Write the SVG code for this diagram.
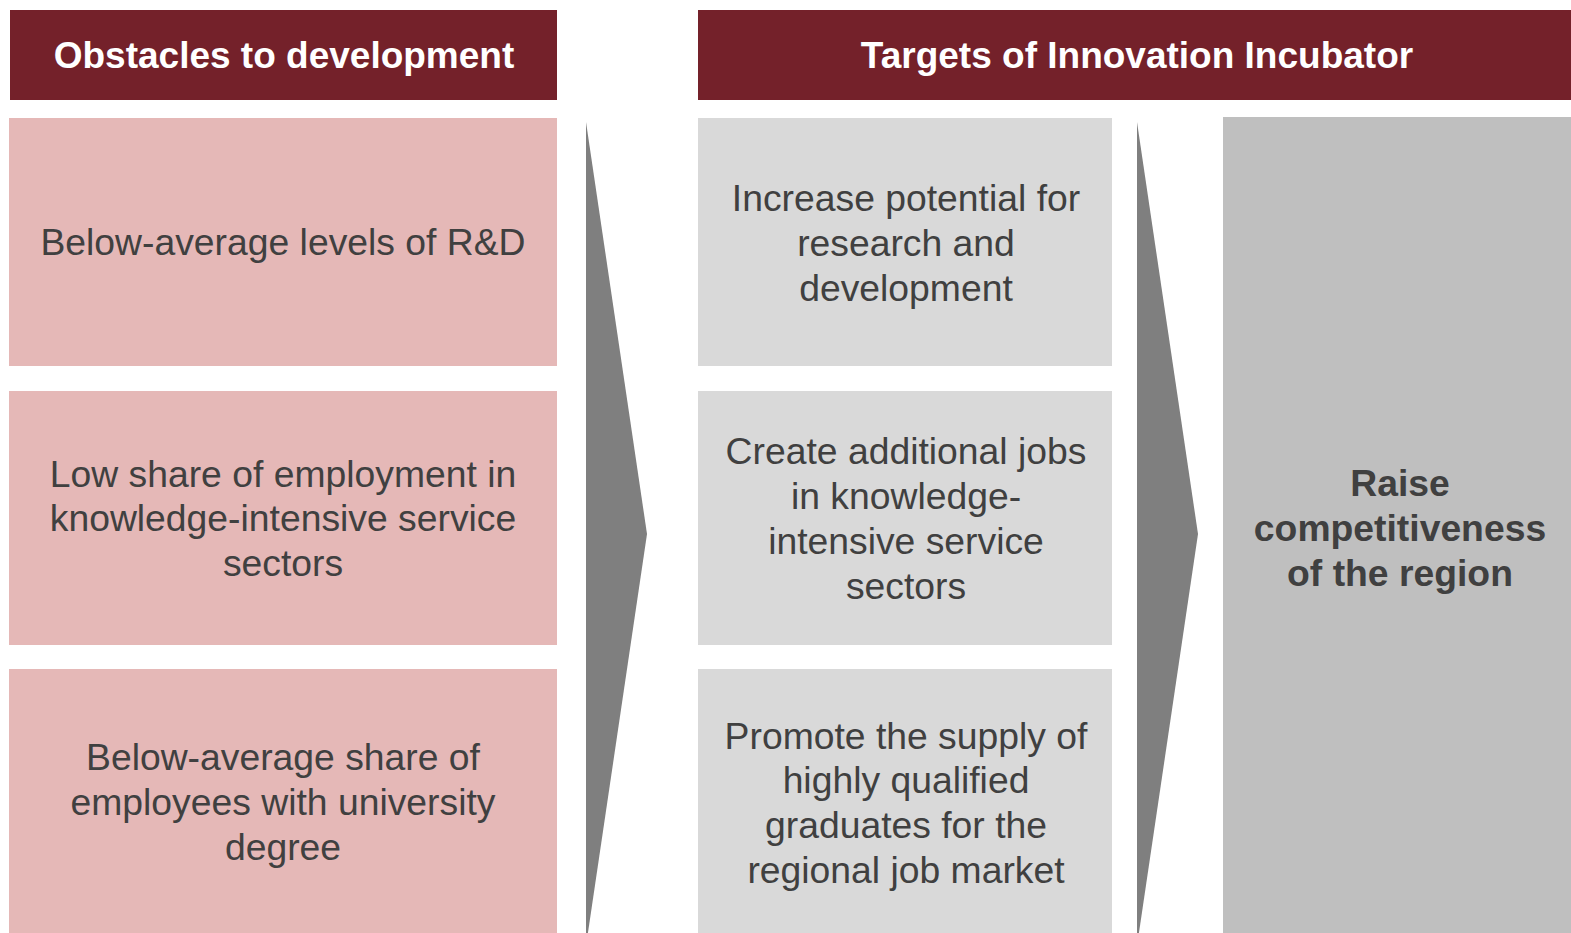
<svg xmlns="http://www.w3.org/2000/svg" width="1571" height="933" viewBox="0 0 1571 933">
<style>
.hdr{fill:#74212A}
.hdrt{font-family:"Liberation Sans",Arial,sans-serif;font-weight:bold;font-size:37px;fill:#FFFFFF;text-anchor:middle}
.pink{fill:#E5B8B7}
.gray{fill:#D9D9D9}
.big{fill:#BFBFBF}
.arrow{fill:#7F7F7F}
.t{font-family:"Liberation Sans",Arial,sans-serif;font-size:37.3px;fill:#404040;text-anchor:middle}
.tb{font-family:"Liberation Sans",Arial,sans-serif;font-size:37.3px;font-weight:bold;fill:#404040;text-anchor:middle}
</style>
<rect width="1571" height="933" fill="#FFFFFF"/>
<g id="header-obstacles">
<rect class="hdr" x="10" y="10" width="547" height="90"/>
<text class="hdrt" x="284" y="68">Obstacles to development</text>
</g>
<g id="header-targets">
<rect class="hdr" x="698" y="10" width="873" height="90"/>
<text class="hdrt" x="1137" y="68">Targets of Innovation Incubator</text>
</g>
<g id="obstacle-1">
<rect class="pink" x="9" y="118" width="548" height="248"/>
<text class="t" x="283" y="255">Below-average levels of R&amp;D</text>
</g>
<g id="obstacle-2">
<rect class="pink" x="9" y="391" width="548" height="254"/>
<text class="t" x="283" y="487">Low share of employment in</text>
<text class="t" x="283" y="531">knowledge-intensive service</text>
<text class="t" x="283" y="576">sectors</text>
</g>
<g id="obstacle-3">
<rect class="pink" x="9" y="669" width="548" height="264"/>
<text class="t" x="283" y="770">Below-average share of</text>
<text class="t" x="283" y="815">employees with university</text>
<text class="t" x="283" y="860">degree</text>
</g>
<g id="target-1">
<rect class="gray" x="698" y="118" width="414" height="248"/>
<text class="t" x="906" y="211">Increase potential for</text>
<text class="t" x="906" y="256">research and</text>
<text class="t" x="906" y="301">development</text>
</g>
<g id="target-2">
<rect class="gray" x="698" y="391" width="414" height="254"/>
<text class="t" x="906" y="464">Create additional jobs</text>
<text class="t" x="906" y="509">in knowledge-</text>
<text class="t" x="906" y="554">intensive service</text>
<text class="t" x="906" y="599">sectors</text>
</g>
<g id="target-3">
<rect class="gray" x="698" y="669" width="414" height="264"/>
<text class="t" x="906" y="749">Promote the supply of</text>
<text class="t" x="906" y="793">highly qualified</text>
<text class="t" x="906" y="838">graduates for the</text>
<text class="t" x="906" y="883">regional job market</text>
</g>
<g id="goal">
<rect class="big" x="1223" y="117" width="348" height="816"/>
<text class="tb" x="1400" y="496">Raise</text>
<text class="tb" x="1400" y="541">competitiveness</text>
<text class="tb" x="1400" y="586">of the region</text>
</g>
<g id="connectors">
<polygon class="arrow" points="586,122 647,534 586,946"/>
<polygon class="arrow" points="1137,122 1198,534 1137,946"/>
</g>
</svg>
